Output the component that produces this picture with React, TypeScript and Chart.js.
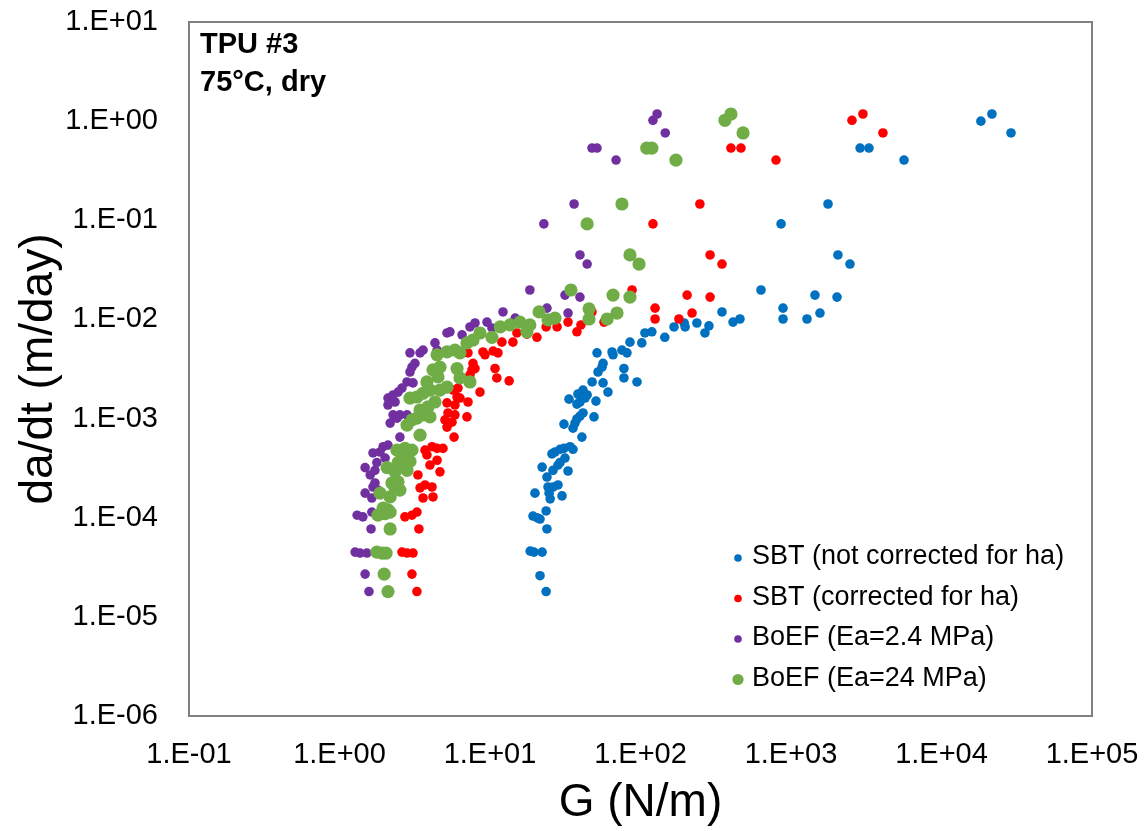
import React, { useEffect, useRef } from 'react';
import { Chart, registerables } from 'chart.js';

Chart.register(...registerables);

const CANVAS_W = 1147;
const CANVAS_H = 831;
const FONT = '"Liberation Sans", Arial, Helvetica, sans-serif';

// ---- axis ticks ----
const xTickValues = [1e-1, 1e0, 1e1, 1e2, 1e3, 1e4, 1e5];
const xTickLabels = ['1.E-01', '1.E+00', '1.E+01', '1.E+02', '1.E+03', '1.E+04', '1.E+05'];
const yTickValues = [1e-6, 1e-5, 1e-4, 1e-3, 1e-2, 1e-1, 1e0, 1e1];
const yTickLabels = ['1.E-06', '1.E-05', '1.E-04', '1.E-03', '1.E-02', '1.E-01', '1.E+00', '1.E+01'];

const xTitle = 'G (N/m)';
const yTitle = 'da/dt (m/day)';
const annotationLines = ['TPU #3', '75°C, dry'];

// ---- series ----
const seriesLabels = [
  'SBT (not corrected for ha)',
  'SBT (corrected for ha)',
  'BoEF (Ea=2.4 MPa)',
  'BoEF (Ea=24 MPa)',
];
const seriesColors = ['#0070C0', '#FF0000', '#7030A0', '#70AD47'];

// [G (N/m), da/dt (m/day)]
const sbtNotCorrected: [number, number][] = [
  [23.6, 1.8e-5], [21.5, 2.6e-5], [18.5, 4.6e-5], [19.6, 4.5e-5], [22.2, 4.5e-5], [23.9, 7.7e-5],
  [19.3, 1.04e-4], [20.5, 1.0e-4], [21.5, 9.7e-5], [23.6, 1.17e-4], [19.9, 1.77e-4], [25.1, 1.55e-4],
  [24.7, 1.77e-4], [24.3, 2.04e-4], [26.2, 2.04e-4], [28.3, 2.14e-4], [30.1, 1.66e-4], [22.2, 3.24e-4],
  [23.9, 2.57e-4], [26.2, 3.0e-4], [28.3, 3.4e-4], [29.2, 3.6e-4], [31.5, 4.0e-4], [33, 2.96e-4],
  [25.8, 4.4e-4], [27, 4.6e-4], [29.2, 4.9e-4], [31, 5.0e-4], [34, 5.2e-4], [35.6, 4.9e-4],
  [40.8, 6.5e-4], [31, 8.8e-4], [35.6, 8.0e-4], [36.7, 9.0e-4], [37.8, 9.9e-4], [39.6, 1.06e-3],
  [41.5, 1.14e-3], [49.1, 1.04e-3], [33.5, 1.57e-3], [37.8, 1.4e-3], [39.6, 1.47e-3], [38.4, 1.77e-3],
  [41.5, 1.94e-3], [44.2, 1.73e-3], [42.8, 1.61e-3], [50.6, 1.5e-3], [47.7, 2.34e-3], [56.4, 2.29e-3],
  [60.8, 1.85e-3], [52.2, 2.95e-3], [55.5, 3.3e-3], [56.4, 3.6e-3], [51.4, 4.6e-3], [64.7, 4.7e-3],
  [65.7, 4.4e-3], [77.6, 3.2e-3], [77.6, 2.57e-3], [94.8, 2.34e-3], [75.3, 4.9e-3], [81.3, 4.6e-3],
  [85.1, 5.9e-3], [102, 5.8e-3], [107, 7.3e-3], [119, 7.5e-3], [145, 6.6e-3], [167, 8.4e-3],
  [198, 8.4e-3], [195, 9.2e-3], [237, 9.2e-3], [268, 7.3e-3], [285, 8.6e-3], [348, 1.19e-2],
  [412, 9.4e-3], [458, 1.01e-2], [632, 1.98e-2], [885, 1.3e-2], [885, 1.01e-2], [1277, 1.01e-2],
  [1443, 1.76e-2], [1558, 1.16e-2], [2022, 1.68e-2], [2050, 4.47e-2], [2466, 3.62e-2], [1762, 0.146],
  [859, 0.092], [18270, 1.0], [21630, 1.18], [28970, 0.76], [2878, 0.535], [3296, 0.535], [5636, 0.405],
];

const sbtCorrected: [number, number][] = [
  [3.27, 1.8e-5], [3.03, 2.7e-5], [2.6, 4.5e-5], [2.81, 4.4e-5], [3.08, 4.4e-5], [3.37, 7.7e-5],
  [2.72, 1.02e-4], [3.03, 1.06e-4], [3.27, 1.14e-4], [4.18, 1.62e-4], [3.59, 1.58e-4], [3.43, 2.0e-4],
  [3.7, 2.14e-4], [4.12, 2.04e-4], [3.32, 2.7e-4], [4.65, 2.9e-4], [4.45, 3.8e-4], [3.99, 3.4e-4],
  [3.81, 4.3e-4], [3.7, 4.8e-4], [4.12, 5.2e-4], [4.45, 5.0e-4], [4.87, 5.0e-4], [5.77, 6.5e-4],
  [5.18, 8.2e-4], [5.59, 9.2e-4], [5.85, 1.09e-3], [5.02, 9.7e-4], [5.26, 1.14e-3], [5.85, 1.37e-3],
  [5.18, 1.44e-3], [7.03, 1.04e-3], [7.14, 1.47e-3], [6.04, 1.65e-3], [5.68, 1.94e-3], [6.13, 2.03e-3],
  [6.32, 1.61e-3], [8.58, 1.85e-3], [7.36, 2.75e-3], [7.95, 3.2e-3], [7.59, 3.1e-3], [7.71, 3.6e-3],
  [10.8, 3.2e-3], [11.1, 2.57e-3], [13.4, 2.4e-3], [7.14, 4.6e-3], [8.98, 4.7e-3], [9.26, 4.4e-3],
  [10.5, 4.8e-3], [11.3, 4.6e-3], [12.0, 5.9e-3], [14.2, 5.9e-3], [15.1, 7.3e-3], [17.6, 7.1e-3],
  [20.5, 6.6e-3], [23.6, 8.4e-3], [27.9, 8.4e-3], [33.0, 9.4e-3], [37.8, 7.5e-3], [40.2, 8.8e-3],
  [47.6, 1.19e-2], [57.2, 9.4e-3], [60.8, 1.03e-2], [87.9, 1.98e-2], [125, 1.3e-2], [125, 1.01e-2],
  [180, 1.01e-2], [204, 1.76e-2], [220, 1.16e-2], [290, 1.68e-2], [348, 3.62e-2], [290, 4.47e-2],
  [248, 0.146], [121, 0.092], [2542, 1.02], [3006, 1.18], [4083, 0.76], [399, 0.535], [465, 0.535],
  [795, 0.405],
];

const boefEa2p4: [number, number][] = [
  [1.57, 1.8e-5], [1.48, 2.7e-5], [1.27, 4.5e-5], [1.37, 4.4e-5], [1.52, 4.4e-5], [1.62, 7.7e-5],
  [1.31, 1.06e-4], [1.43, 1.02e-4], [1.64, 1.14e-4], [1.64, 1.58e-4], [1.48, 1.77e-4], [1.67, 2.04e-4],
  [1.8, 1.9e-4], [1.72, 2.24e-4], [1.48, 3.2e-4], [1.6, 2.7e-4], [1.72, 3.0e-4], [1.77, 3.6e-4],
  [1.67, 4.5e-4], [1.86, 4.6e-4], [1.95, 5.2e-4], [2.1, 5.4e-4], [2.01, 4.0e-4], [2.52, 6.5e-4],
  [2.17, 9.0e-4], [2.27, 1.09e-3], [2.41, 1.01e-3], [2.52, 1.09e-3], [2.81, 1.09e-3], [2.1, 1.37e-3],
  [2.34, 1.47e-3], [2.1, 1.61e-3], [2.27, 1.73e-3], [2.45, 1.85e-3], [2.6, 2.03e-3], [2.81, 2.34e-3],
  [3.08, 2.29e-3], [2.94, 2.95e-3], [3.17, 3.6e-3], [3.03, 3.3e-3], [2.94, 4.6e-3], [3.43, 4.6e-3],
  [3.59, 4.9e-3], [4.31, 5.8e-3], [4.45, 4.9e-3], [5.18, 7.3e-3], [5.42, 7.5e-3], [6.52, 7.0e-3],
  [7.36, 8.4e-3], [7.95, 9.2e-3], [9.55, 9.4e-3], [10.3, 8.2e-3], [12.2, 1.19e-2], [14.7, 1.03e-2],
  [18.4, 1.98e-2], [23.9, 1.3e-2], [31.5, 1.76e-2], [39.6, 1.68e-2], [33.0, 1.16e-2], [39.6, 4.47e-2],
  [44.2, 3.62e-2], [22.8, 0.092], [36.2, 0.146], [121, 1.02], [129, 1.18], [146, 0.76],
  [47.6, 0.535], [51.4, 0.535], [68.8, 0.405],
];

const boefEa24: [number, number][] = [
  [2.1, 1.8e-5], [1.98, 2.7e-5], [1.77, 4.5e-5], [1.92, 4.4e-5], [2.04, 4.4e-5], [2.17, 7.7e-5],
  [1.8, 1.06e-4], [2.01, 1.1e-4], [2.17, 1.14e-4], [1.95, 1.25e-4], [2.1, 1.2e-4], [1.86, 1.77e-4],
  [2.17, 1.62e-4], [2.34, 2.0e-4], [2.52, 1.9e-4], [2.23, 2.24e-4], [2.45, 2.3e-4], [2.07, 3.2e-4],
  [2.34, 2.9e-4], [2.45, 3.6e-4], [2.81, 3.0e-4], [2.6, 4.0e-4], [2.94, 3.7e-4], [2.41, 4.8e-4],
  [2.72, 5.0e-4], [3.03, 4.8e-4], [2.81, 4.5e-4], [3.43, 6.8e-4], [2.81, 8.6e-4], [3.03, 9.7e-4],
  [3.27, 1.01e-3], [3.59, 1.09e-3], [3.99, 1.04e-3], [3.43, 1.22e-3], [3.87, 1.31e-3], [4.31, 1.47e-3],
  [2.94, 1.61e-3], [3.27, 1.65e-3], [3.59, 1.8e-3], [3.99, 1.94e-3], [4.65, 1.94e-3], [5.18, 2.08e-3],
  [3.81, 2.34e-3], [4.51, 2.63e-3], [4.18, 3.1e-3], [4.65, 3.3e-3], [6.04, 3.2e-3], [6.32, 2.57e-3],
  [7.36, 2.34e-3], [4.45, 4.4e-3], [5.18, 4.7e-3], [5.85, 4.9e-3], [6.32, 4.6e-3], [7.03, 5.8e-3],
  [7.71, 6.2e-3], [8.58, 7.3e-3], [10.3, 6.6e-3], [11.7, 8.4e-3], [13.6, 8.8e-3], [15.8, 9.4e-3],
  [18.4, 8.8e-3], [17.6, 7.5e-3], [21.2, 1.19e-2], [24.3, 9.9e-3], [27.0, 1.03e-2], [34.5, 1.98e-2],
  [45.5, 1.28e-2], [45.5, 1.01e-2], [60.0, 1.01e-2], [69.8, 1.16e-2], [65.7, 1.76e-2], [85.1, 1.68e-2],
  [85.1, 4.47e-2], [97.8, 3.62e-2], [44.2, 0.092], [75.3, 0.146], [364, 1.02], [399, 1.18],
  [480, 0.76], [110, 0.535], [119, 0.535], [172, 0.405],
];

const seriesData = [sbtNotCorrected, sbtCorrected, boefEa2p4, boefEa24];
const seriesPointRadius = [4.8, 4.8, 4.8, 6.6];
const legendMarkerRadius = [3.8, 3.8, 3.8, 5.6];

const framePlugin = {
  id: 'frameAndLegend',
  afterDatasetsDraw(chart: any) {
    const { ctx, chartArea: a } = chart;
    ctx.save();
    // plot box
    ctx.strokeStyle = '#808080';
    ctx.lineWidth = 2;
    ctx.strokeRect(a.left, a.top, a.right - a.left, a.bottom - a.top);

    // annotation text
    ctx.fillStyle = '#000';
    ctx.textAlign = 'left';
    ctx.textBaseline = 'middle';
    ctx.font = `bold 29px ${FONT}`;
    ctx.fillText(annotationLines[0], a.left + 11, a.top + 23);
    ctx.fillText(annotationLines[1], a.left + 11, a.top + 61);

    // legend (inside plot, lower right)
    ctx.font = `27px ${FONT}`;
    const markerX = a.left + 549;
    const textX = a.left + 563;
    const rowY0 = a.top + 535;
    const rowGap = 40.5;
    chart.data.datasets.forEach((ds: any, i: number) => {
      const y = rowY0 + i * rowGap;
      ctx.beginPath();
      ctx.fillStyle = ds.backgroundColor;
      ctx.arc(markerX, y + 1, legendMarkerRadius[i], 0, Math.PI * 2);
      ctx.fill();
      ctx.fillStyle = '#000';
      ctx.fillText(ds.label, textX, y);
    });
    ctx.restore();
  },
};

const zeroPadding = (s: any) => {
  s.paddingTop = 0;
  s.paddingBottom = 0;
  s.paddingLeft = 0;
  s.paddingRight = 0;
};

export default function App() {
  const canvasRef = useRef<HTMLCanvasElement | null>(null);

  useEffect(() => {
    if (!canvasRef.current) return;
    Chart.defaults.font.family = FONT;
    const chart = new Chart(canvasRef.current, {
      type: 'scatter',
      data: {
        datasets: seriesData.map((pts, i) => ({
          label: seriesLabels[i],
          data: pts.map(([x, y]) => ({ x, y })),
          backgroundColor: seriesColors[i],
          borderColor: seriesColors[i],
          borderWidth: 0,
          pointRadius: seriesPointRadius[i],
          pointHoverRadius: seriesPointRadius[i],
          order: seriesData.length - i,
        })),
      },
      options: {
        responsive: false,
        animation: false,
        devicePixelRatio: 1,
        layout: { padding: { left: 0, right: 55, top: 22, bottom: 0 } },
        plugins: {
          legend: { display: false },
          tooltip: { enabled: false },
        },
        scales: {
          x: {
            type: 'logarithmic',
            position: 'bottom',
            min: 0.1,
            max: 1e5,
            grid: { display: false, drawTicks: false },
            border: { display: false },
            ticks: {
              autoSkip: false,
              maxRotation: 0,
              padding: 22,
              color: '#000',
              font: { size: 29 },
              callback: (_v: any, idx: number) => xTickLabels[idx],
            },
            afterBuildTicks: (s: any) => {
              s.ticks = xTickValues.map((v) => ({ value: v }));
            },
            afterFit: (s: any) => {
              s.height = 115;
              zeroPadding(s);
            },
            title: {
              display: true,
              text: xTitle,
              color: '#000',
              font: { size: 46 },
              padding: { top: 0, bottom: 0 },
            },
          },
          y: {
            type: 'logarithmic',
            position: 'left',
            min: 1e-6,
            max: 10,
            grid: { display: false, drawTicks: false },
            border: { display: false },
            ticks: {
              autoSkip: false,
              padding: 31,
              color: '#000',
              font: { size: 29 },
              callback: (_v: any, idx: number) => yTickLabels[idx],
            },
            afterBuildTicks: (s: any) => {
              s.ticks = yTickValues.map((v) => ({ value: v }));
            },
            afterFit: (s: any) => {
              s.width = 189;
              zeroPadding(s);
            },
            title: {
              display: true,
              text: yTitle,
              color: '#000',
              font: { size: 46 },
              padding: { top: 12, bottom: 0 },
            },
          },
        },
      },
      plugins: [framePlugin],
    } as any);
    return () => chart.destroy();
  }, []);

  return (
    <div style={{ position: 'fixed', left: 0, top: 0, width: CANVAS_W, height: CANVAS_H, background: '#fff' }}>
      <canvas ref={canvasRef} width={CANVAS_W} height={CANVAS_H} style={{ width: CANVAS_W, height: CANVAS_H }} />
    </div>
  );
}
